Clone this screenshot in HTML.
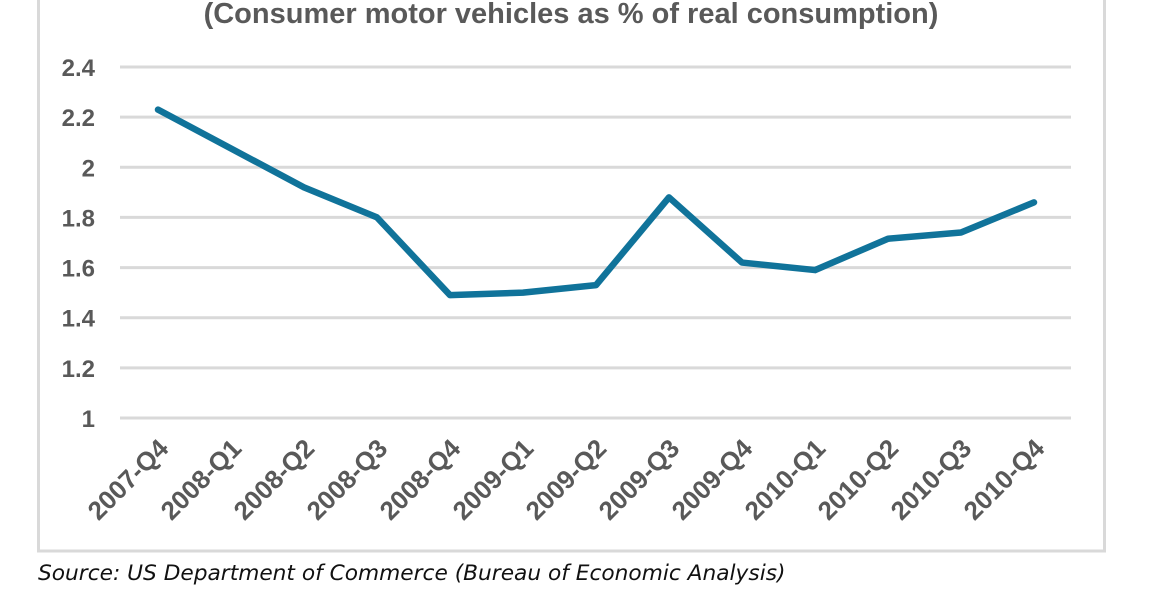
<!DOCTYPE html>
<html><head><meta charset="utf-8"><style>
html,body{margin:0;padding:0;background:#fff;width:1152px;height:600px;overflow:hidden}
svg{display:block;font-family:"Liberation Sans",sans-serif}
</style></head><body>
<svg width="1152" height="600">
<rect x="38.5" y="-10" width="1066" height="561" fill="none" stroke="#d9d9d9" stroke-width="3"/>
<text x="571" y="23" text-anchor="middle" font-size="29" font-weight="bold" fill="#595959">(Consumer motor vehicles as % of real consumption)</text>
<g id="grid"></g><g id="ylabels"></g><g id="xlabels"></g><g id="series"></g>
<text x="38" y="580" font-size="21.7" font-style="italic" fill="#111" font-family="'DejaVu Sans','Liberation Sans',sans-serif">Source: US Department of Commerce (Bureau of Economic Analysis)</text>
</svg>
<script>
const categories=["2007-Q4","2008-Q1","2008-Q2","2008-Q3","2008-Q4","2009-Q1","2009-Q2","2009-Q3","2009-Q4","2010-Q1","2010-Q2","2010-Q3","2010-Q4"];
const values=[2.23,2.075,1.92,1.80,1.49,1.50,1.53,1.88,1.62,1.59,1.715,1.74,1.86];
const yTicks=[1,1.2,1.4,1.6,1.8,2,2.2,2.4];
const yTickLabels=["1","1.2","1.4","1.6","1.8","2","2.2","2.4"];
const NS="http://www.w3.org/2000/svg";
function y(v){return 418-(v-1)/1.4*351;}
function x(i){return 158+i*73;}
function mk(t,a,p){const e=document.createElementNS(NS,t);for(const k in a)e.setAttribute(k,a[k]);p.appendChild(e);return e;}
const g=document.getElementById('grid'),yl=document.getElementById('ylabels'),xl=document.getElementById('xlabels'),s=document.getElementById('series');
yTicks.forEach((v,i)=>{
 const l=mk('line',{x1:120,x2:1071,y1:y(v),y2:y(v),stroke:'#d9d9d9','stroke-width':3},g);
 
 
 const t=mk('text',{x:95,y:y(v)+9,'text-anchor':'end','font-size':24,'font-weight':'bold',fill:'#595959'},yl);
 t.textContent=yTickLabels[i];
 
 
});
categories.forEach((c,i)=>{
 const ax=x(i)+12, ay=450;
 const t=mk('text',{x:ax,y:ay,'text-anchor':'end','font-size':26,'font-weight':'bold',fill:'#595959',transform:`rotate(-45 ${ax} ${ay})`},xl);
 t.textContent=c;
 
 
});
const p=mk('polyline',{points:values.map((v,i)=>x(i)+','+y(v)).join(' '),fill:'none',stroke:'#10739a','stroke-width':6.5,'stroke-linejoin':'round','stroke-linecap':'round'},s);


</script>
</body></html>
